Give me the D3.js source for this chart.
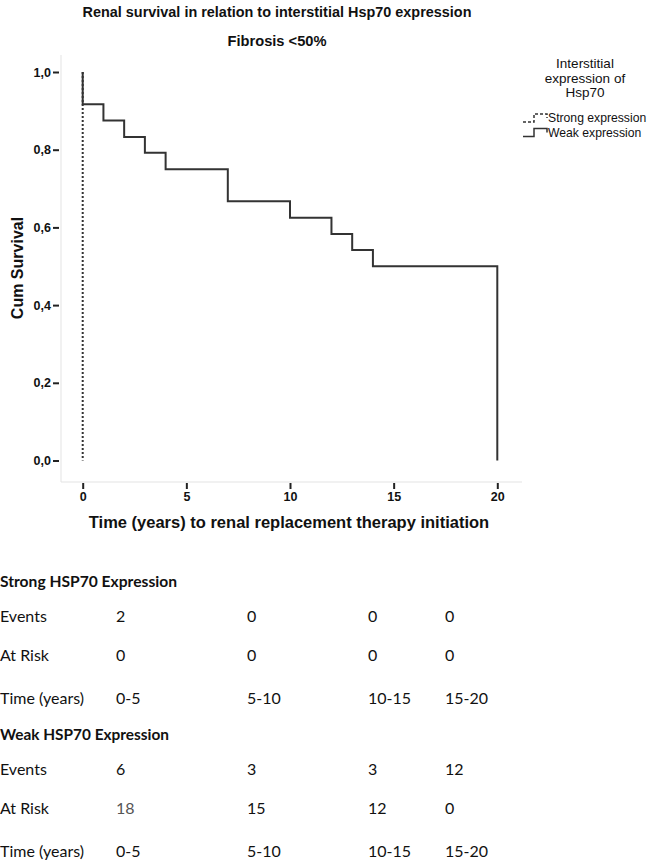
<!DOCTYPE html>
<html lang="en">
<head>
  <meta charset="UTF-8">
  <title>Renal survival in relation to interstitial Hsp70 expression</title>
  <script src="https://d3js.org/d3.v7.min.js"></script>
  <style>
    body { margin: 0; background: #fff; }
    svg { display: block; }
    .chart text { font-family: "Liberation Sans", Arial, sans-serif; fill: #111; }
    .table text { font-family: Lato, "Open Sans", sans-serif; fill: #111; font-size: 16px; }
    .axis text { font-size: 12.5px; font-weight: bold; }
    .axis line { stroke: #222; stroke-width: 2px; }
  </style>
</head>
<body>
  <svg width="649" height="860"></svg>

  <script>
    // chart data
    const titleLines = ["Renal survival in relation to interstitial Hsp70 expression", "Fibrosis <50%"];
    const legendTitle = ["Interstitial", "expression of", "Hsp70"];
    const groups = ["Strong expression", "Weak expression"];
    const strongTime = [0, 0];
    const strongSurv = [1, 0];
    const weakTime = [0, 0, 1, 2, 3, 4, 7, 10, 12, 13, 14, 20];
    const weakSurv = [1, 0.917, 0.875, 0.833, 0.792, 0.75, 0.667, 0.625, 0.583, 0.542, 0.5, 0];
    const xTicks = [0, 5, 10, 15, 20];
    const yTicks = [0, 0.2, 0.4, 0.6, 0.8, 1.0];

    // risk table
    const periods = ["0-5", "5-10", "10-15", "15-20"];
    const strongEvents = [2, 0, 0, 0];
    const strongAtRisk = [0, 0, 0, 0];
    const weakEvents = [6, 3, 3, 12];
    const weakAtRisk = [18, 15, 12, 0];

    const svg = d3.select("svg");
    const g = svg.append("g").attr("class", "chart");

    const x = d3.scaleLinear().domain([0, 20]).range([82.7, 497.3]);
    const y = d3.scaleLinear().domain([0, 1]).range([460.5, 72]);

    // titles (the original font is a bit condensed)
    const titleW = [389, 99];
    g.selectAll(".title").data(titleLines).enter().append("text")
      .attr("class", "title")
      .attr("x", 277).attr("y", (d, i) => 17 + i * 29)
      .attr("text-anchor", "middle")
      .attr("textLength", (d, i) => titleW[i]).attr("lengthAdjust", "spacingAndGlyphs")
      .style("font-size", "15.5px").style("font-weight", "bold")
      .text(d => d);

    // light frame (left + bottom)
    g.append("path")
      .attr("d", "M61,55V482H522")
      .attr("fill", "none").attr("stroke", "#e3e3e3").attr("stroke-width", 1);

    // axes
    const fmt = d => d3.format(".1f")(d).replace(".", ",");
    const yAxis = g.append("g").attr("class", "axis")
      .attr("transform", "translate(59,0)")
      .call(d3.axisLeft(y).tickValues(yTicks).tickSize(6).tickPadding(2).tickFormat(fmt));
    yAxis.select(".domain").remove();

    const xAxis = g.append("g").attr("class", "axis")
      .attr("transform", "translate(0,483)")
      .call(d3.axisBottom(x).tickValues(xTicks).tickSize(6).tickPadding(3));
    xAxis.select(".domain").remove();

    // axis labels
    g.append("text")
      .attr("transform", "translate(23,268) rotate(-90)")
      .attr("text-anchor", "middle")
      .style("font-size", "16px").style("font-weight", "bold")
      .text("Cum Survival");

    g.append("text")
      .attr("x", 289).attr("y", 528)
      .attr("text-anchor", "middle")
      .style("font-size", "16.5px").style("font-weight", "bold")
      .text("Time (years) to renal replacement therapy initiation");

    // survival curves
    const line = d3.line().curve(d3.curveStepAfter).x(d => x(d[0])).y(d => y(d[1]));

    g.append("path")
      .datum(d3.zip(strongTime, strongSurv))
      .attr("fill", "none").attr("stroke", "#333").attr("stroke-width", 2)
      .attr("stroke-dasharray", "2,2")
      .attr("d", line);

    g.append("path")
      .datum(d3.zip(weakTime, weakSurv))
      .attr("fill", "none").attr("stroke", "#333").attr("stroke-width", 2)
      .attr("d", line);

    // legend
    g.selectAll(".ltitle").data(legendTitle).enter().append("text")
      .attr("x", 585).attr("y", (d, i) => 68 + i * 14.5)
      .attr("text-anchor", "middle")
      .style("font-size", "13.5px")
      .text(d => d);

    const leg = g.selectAll(".leg").data(groups).enter().append("g")
      .attr("transform", (d, i) => `translate(523,${122 + i * 14.5})`);
    leg.append("path")
      .attr("d", "M0,0H11V-8H24V-4")
      .attr("fill", "none").attr("stroke", "#333").attr("stroke-width", 1.5)
      .attr("stroke-dasharray", (d, i) => i === 0 ? "3,2" : null);
    leg.append("text")
      .attr("x", 25).attr("y", 0)
      .style("font-size", "12.2px")
      .text(d => d);

    // risk table below the chart
    const t = svg.append("g").attr("class", "table");
    const colX = d3.scaleOrdinal().domain(periods).range([116, 247, 368, 445]);

    const blocks = [
      { head: "Strong HSP70 Expression", events: strongEvents, risk: strongAtRisk, y0: 580 },
      { head: "Weak HSP70 Expression", events: weakEvents, risk: weakAtRisk, y0: 733 }
    ];
    const rowGap = [35, 74, 117];

    blocks.forEach(b => {
      t.append("text").attr("x", 0).attr("y", b.y0)
        .attr("dominant-baseline", "central")
        .attr("textLength", b.y0 === 580 ? 177 : 169).attr("lengthAdjust", "spacingAndGlyphs")
        .style("font-weight", "bold").text(b.head);
      const rows = [["Events", b.events], ["At Risk", b.risk], ["Time (years)", periods]];
      rows.forEach((r, ri) => {
        const yy = b.y0 + rowGap[ri];
        t.append("text").attr("x", 0).attr("y", yy)
          .attr("dominant-baseline", "central").text(r[0]);
        t.selectAll(null).data(r[1]).enter().append("text")
          .attr("x", (d, i) => colX(periods[i]))
          .attr("y", yy)
          .attr("dominant-baseline", "central")
          .style("fill", (d, i) => (b.risk === weakAtRisk && ri === 1 && i === 0) ? "#555" : null)
          .text(d => d);
      });
    });
  </script>
</body>
</html>
